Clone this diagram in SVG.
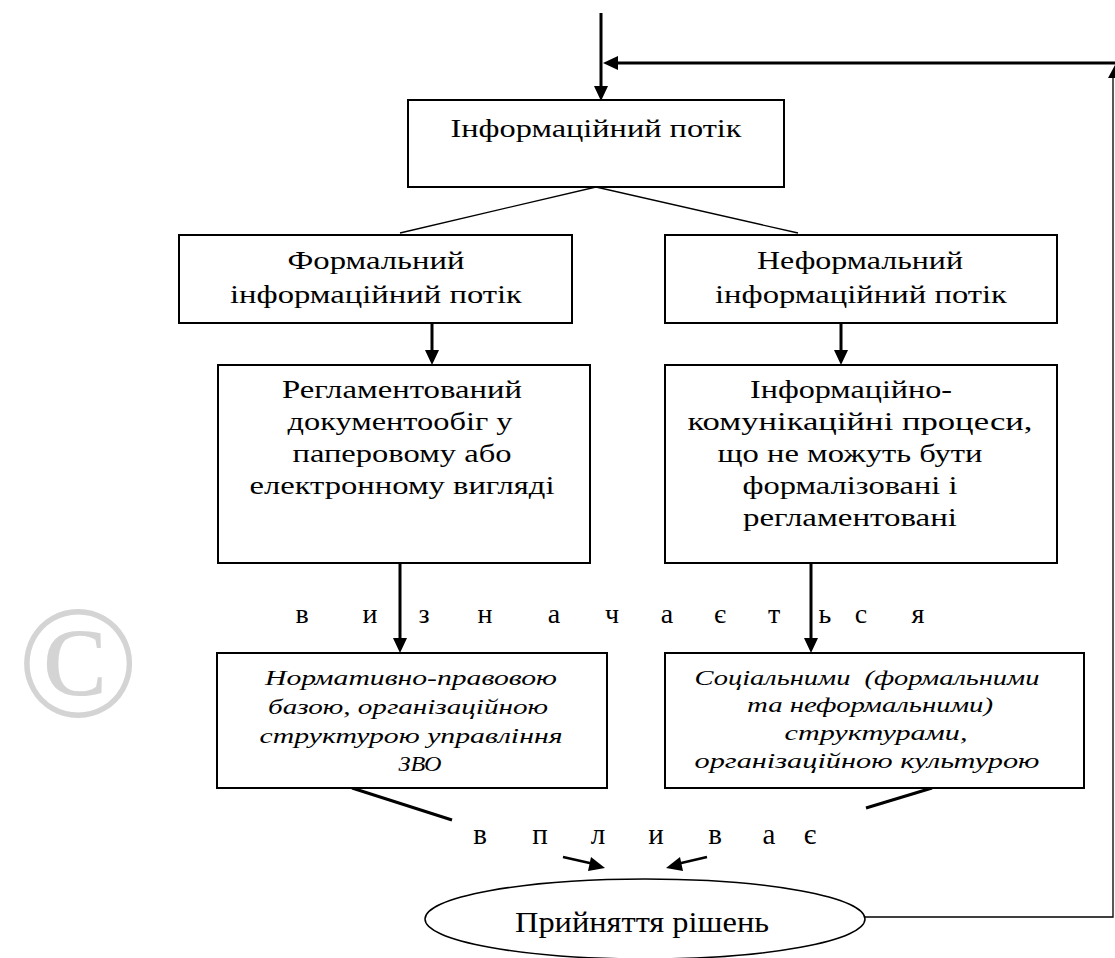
<svg xmlns="http://www.w3.org/2000/svg" width="1115" height="958" viewBox="0 0 1115 958">
  <style>
    .box { fill: #ffffff; stroke: #000000; stroke-width: 2; }
    .thin { fill: none; stroke: #000000; stroke-width: 1.3; }
    .thick { fill: none; stroke: #000000; stroke-width: 3; }
    .mid { fill: none; stroke: #000000; stroke-width: 2.5; }
    .head { fill: #000000; stroke: none; }
    text { font-family: "Liberation Serif", "Times New Roman", Times, serif; fill: #000000; }
    .t { font-size: 25px; text-anchor: middle; }
    .it { font-size: 20px; font-style: italic; text-anchor: middle; }
    .sp { font-size: 28px; text-anchor: middle; }
    .wm { font-size: 160px; fill: #d4d4d4; text-anchor: middle; }
  </style>

  <!-- copyright mark in the background -->
  <text class="wm" x="78" y="716">©</text>

  <!-- connectors -->
  <g id="connectors">
    <!-- incoming flow into the top box -->
    <line class="thick" x1="601" y1="13" x2="601" y2="88"/>
    <polygon class="head" points="594,86 608,86 601,101"/>
    <!-- feedback loop from the decision ellipse -->
    <polyline class="thin" points="865,917 1113,917 1113,78"/>
    <polygon class="head" points="1108,78 1115,78 1115,65"/>
    <line class="thick" x1="1115" y1="63" x2="616" y2="63"/>
    <polygon class="head" points="618,56 618,70 603,63"/>
    <!-- split into formal / informal -->
    <polyline class="thin" points="400,233 596,187 798,233"/>
    <!-- flow to the content boxes -->
    <line class="thick" x1="432" y1="323" x2="432" y2="352"/>
    <polygon class="head" points="425,350 439,350 432,365"/>
    <line class="thick" x1="841" y1="323" x2="841" y2="352"/>
    <polygon class="head" points="834,350 848,350 841,365"/>
    <!-- "визначається" arrows -->
    <line class="thick" x1="400" y1="563" x2="400" y2="640"/>
    <polygon class="head" points="393,638 407,638 400,653"/>
    <line class="thick" x1="811" y1="563" x2="811" y2="640"/>
    <polygon class="head" points="804,638 818,638 811,653"/>
    <!-- "впливає" strokes -->
    <line class="thick" x1="352" y1="788" x2="452" y2="820"/>
    <line class="thick" x1="932" y1="788" x2="866" y2="808"/>
    <line class="mid" x1="563" y1="857" x2="594" y2="864"/>
    <polygon class="head" points="591,857 588,871 605,868"/>
    <line class="mid" x1="707" y1="857" x2="677" y2="864"/>
    <polygon class="head" points="680,857 683,871 666,868"/>
  </g>

  <g id="node-info-flow">
    <rect class="box" x="408" y="100" width="376" height="87"/>
    <text class="t" x="596" y="137" style="font-size:26px" textLength="291" lengthAdjust="spacingAndGlyphs">Інформаційний потік</text>
  </g>

  <g id="node-formal">
    <rect class="box" x="179" y="235" width="393" height="88"/>
    <text class="t" x="376" y="269" textLength="177" lengthAdjust="spacingAndGlyphs">Формальний</text>
    <text class="t" x="376" y="303" textLength="292" lengthAdjust="spacingAndGlyphs">інформаційний потік</text>
  </g>

  <g id="node-informal">
    <rect class="box" x="665" y="235" width="392" height="88"/>
    <text class="t" x="860" y="269" textLength="206" lengthAdjust="spacingAndGlyphs">Неформальний</text>
    <text class="t" x="861" y="303" textLength="292" lengthAdjust="spacingAndGlyphs">інформаційний потік</text>
  </g>

  <g id="node-documents">
    <rect class="box" x="218" y="365" width="372" height="198"/>
    <text class="t" x="402" y="398" textLength="240" lengthAdjust="spacingAndGlyphs">Регламентований</text>
    <text class="t" x="400" y="430" textLength="225" lengthAdjust="spacingAndGlyphs">документообіг у</text>
    <text class="t" x="402" y="462" textLength="219" lengthAdjust="spacingAndGlyphs">паперовому або</text>
    <text class="t" x="402" y="494" textLength="305" lengthAdjust="spacingAndGlyphs">електронному вигляді</text>
  </g>

  <g id="node-communication">
    <rect class="box" x="665" y="365" width="392" height="198"/>
    <text class="t" x="851" y="398" textLength="202" lengthAdjust="spacingAndGlyphs">Інформаційно-</text>
    <text class="t" x="860" y="430" textLength="345" lengthAdjust="spacingAndGlyphs">комунікаційні процеси,</text>
    <text class="t" x="850" y="462" textLength="265" lengthAdjust="spacingAndGlyphs">що не можуть бути</text>
    <text class="t" x="850" y="494" textLength="215" lengthAdjust="spacingAndGlyphs">формалізовані і</text>
    <text class="t" x="850" y="526" textLength="214" lengthAdjust="spacingAndGlyphs">регламентовані</text>
  </g>

  <!-- spaced verb between the rows -->
  <text class="sp" y="623" x="302 370 424 485 554 612 667 720 774 825 861 918">визначається</text>

  <g id="node-legal">
    <rect class="box" x="217" y="653" width="390" height="135"/>
    <text class="it" x="411" y="685" textLength="292" lengthAdjust="spacingAndGlyphs">Нормативно-правовою</text>
    <text class="it" x="408" y="714" textLength="280" lengthAdjust="spacingAndGlyphs">базою, організаційною</text>
    <text class="it" x="411" y="743" textLength="303" lengthAdjust="spacingAndGlyphs">структурою управління</text>
    <text class="it" x="420" y="771" style="font-size:22px" textLength="43" lengthAdjust="spacingAndGlyphs">ЗВО</text>
  </g>

  <g id="node-social">
    <rect class="box" x="665" y="653" width="419" height="135"/>
    <text class="it" x="867" y="685" textLength="345" lengthAdjust="spacingAndGlyphs" xml:space="preserve">Соціальними  (формальними</text>
    <text class="it" x="870" y="712" textLength="246" lengthAdjust="spacingAndGlyphs">та неформальними)</text>
    <text class="it" x="876" y="740" textLength="183" lengthAdjust="spacingAndGlyphs">структурами,</text>
    <text class="it" x="867" y="768" textLength="345" lengthAdjust="spacingAndGlyphs">організаційною культурою</text>
  </g>

  <!-- spaced verb above the decision -->
  <text class="sp" y="844" style="font-size:29px" x="480 540 598 656 715 769 810">впливає</text>

  <g id="node-decision">
    <ellipse class="box" cx="645" cy="919" rx="220" ry="40" style="stroke-width:1.5"/>
    <text class="t" x="642" y="932" style="font-size:30px" textLength="254" lengthAdjust="spacingAndGlyphs">Прийняття рішень</text>
  </g>
</svg>
